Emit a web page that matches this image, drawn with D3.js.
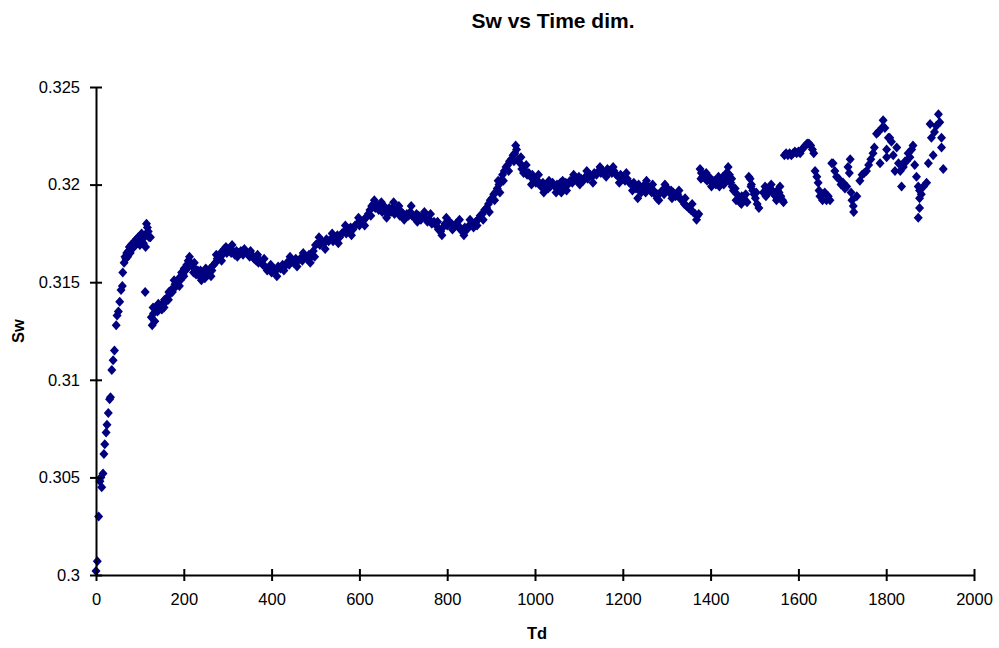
<!DOCTYPE html>
<html>
<head>
<meta charset="utf-8">
<script src="https://cdn.jsdelivr.net/npm/d3@7"></script>
<style>
  html, body { margin: 0; padding: 0; background: #fff; }
  svg { display: block; }
  text { font-family: "Liberation Sans", Arial, sans-serif; fill: #000; }
</style>
</head>
<body>
<div id="chart"></div>
<script>
// Sw against dimensionless time Td, as [Td, Sw] pairs per stretch of the record.
const riseData = [
  [0,0.3002],[3,0.3007],[6,0.3030],[9,0.3048],[11,0.3050],[13,0.3045],[16,0.3052],[18,0.3062],
  [20,0.3067],[23,0.3073],[25,0.3077],[28,0.3083],[31,0.3090],[33,0.3091],[36,0.3105],[39,0.3110],
  [42,0.3115],[46,0.3128],[48,0.3133],[51,0.3135],[54,0.3140],[57,0.3146],[60,0.3148],[61,0.3155],
  [64,0.3160],[66,0.3163],[68,0.3162],[70,0.3165],[72,0.3163],[74,0.3166],[76,0.3168],[78,0.3165],
  [80,0.3169],[82,0.3167],[84,0.3170],[86,0.3168],[88,0.3171],[90,0.3169],[92,0.3172],[94,0.3170],
  [96,0.3173],[98,0.3171],[100,0.3169],[102,0.3173],[104,0.3175],[106,0.3172],[108,0.3170],[110,0.3174],
  [112,0.3145],[113,0.3168],[115,0.3180],[117,0.3178],[119,0.3176],[121,0.3173],[124,0.3173]
];
const climbData = [
  [126,0.3132],[128,0.3128],[131,0.3134],[134,0.3130],[137,0.3137],[140,0.3135],[144,0.3136],[147,0.3138],
  [150,0.3136],[153,0.3139],[156,0.3141],[159,0.3140],[162,0.3142],[165,0.3141],[168,0.3144],[171,0.3146],
  [174,0.3145],[177,0.3147],[180,0.3149],[183,0.3148],[186,0.3150],[189,0.3152],[192,0.3151],[195,0.3155],
  [198,0.3154],[201,0.3157],[204,0.3156],[207,0.3159],[210,0.3161],[213,0.3163],[216,0.3160],[219,0.3158],
  [222,0.3155],[225,0.3157],[228,0.3154],[232,0.3156],[236,0.3153],[240,0.3151],[244,0.3154],[248,0.3152],
  [252,0.3155],[256,0.3154],[260,0.3157],[264,0.3156],[268,0.3159],[272,0.3160],[276,0.3162],[280,0.3163],
  [284,0.3165],[288,0.3164],[292,0.3167],[296,0.3168],[300,0.3166],[304,0.3167],[308,0.3165],[312,0.3166],
  [316,0.3164],[320,0.3166],[325,0.3165],[330,0.3166],[335,0.3164],[340,0.3166],[345,0.3165],[350,0.3163],
  [355,0.3164],[360,0.3162],[365,0.3161],[370,0.3160],[375,0.3161],[380,0.3159],[385,0.3158],[390,0.3156],
  [395,0.3157],[400,0.3155],[405,0.3157],[410,0.3156],[415,0.3158],[420,0.3157],[425,0.3159],[430,0.3158],
  [435,0.3160],[440,0.3159],[445,0.3161],[450,0.3160],[455,0.3162],[460,0.3161],[465,0.3162],[470,0.3161],
  [475,0.3163],[480,0.3162],[485,0.3164],[490,0.3163],[495,0.3166],[500,0.3169],[505,0.3170],[510,0.3169],
  [515,0.3171],[520,0.3170],[525,0.3172],[530,0.3171],[535,0.3172],[540,0.3171],[545,0.3173],[550,0.3174],
  [555,0.3173],[560,0.3175],[565,0.3176],[570,0.3175],[575,0.3177],[580,0.3178],[585,0.3177],[590,0.3179],
  [595,0.3180],[600,0.3179],[605,0.3181],[610,0.3182],[615,0.3183],[620,0.3185],[624,0.3187],[628,0.3189],
  [632,0.3190],[636,0.3188],
  [130,0.3137],[142,0.3139],[155,0.3137],[166,0.3145],[178,0.3151],[190,0.3148],[200,0.3153],[211,0.3158],
  [224,0.3160],[238,0.3156],[250,0.3157],[262,0.3153],[274,0.3164],[286,0.3161],[298,0.3165],[310,0.3169],
  [322,0.3163],[338,0.3167],[352,0.3166],[368,0.3164],[383,0.3162],[398,0.3159],[412,0.3153],[428,0.3156],
  [442,0.3163],[458,0.3158],[472,0.3165],[488,0.3160],[498,0.3163],[508,0.3173],[522,0.3167],[538,0.3175],
  [552,0.3170],[568,0.3179],[582,0.3174],[598,0.3183],[612,0.3179],[626,0.3184],[634,0.3192]
];
const plateauData = [
  [640,0.3189],[644,0.3187],[648,0.3188],[652,0.3186],[656,0.3189],[660,0.3187],[664,0.3185],[668,0.3188],
  [672,0.3186],[676,0.3188],[680,0.3185],[684,0.3187],[688,0.3186],[692,0.3184],[696,0.3186],[700,0.3185],
  [704,0.3183],[708,0.3185],[712,0.3184],[716,0.3186],[720,0.3184],[725,0.3183],[730,0.3185],[735,0.3184],
  [740,0.3182],[745,0.3184],[750,0.3183],[755,0.3181],[760,0.3182],[765,0.3180],[770,0.3181],[775,0.3179],
  [780,0.3177],[785,0.3176],[790,0.3178],[795,0.3180],[800,0.3179],[805,0.3181],[810,0.3180],[815,0.3178],
  [820,0.3180],[825,0.3179],[830,0.3177],[835,0.3176],[840,0.3178],[845,0.3177],[850,0.3179],[855,0.3180],
  [860,0.3178],[865,0.3181],[870,0.3182],[875,0.3184],[880,0.3185],[885,0.3187],[890,0.3188],[894,0.3190],
  [898,0.3192],[902,0.3193],[906,0.3195],[910,0.3196],[914,0.3198],[918,0.3200],[920,0.3196],[922,0.3202],
  [926,0.3205],[930,0.3207],[934,0.3209],[938,0.3210],[942,0.3212],[946,0.3213],[950,0.3215],[954,0.3216],
  [958,0.3218],
  [650,0.3191],[662,0.3183],[678,0.3191],[690,0.3189],[702,0.3182],[718,0.3189],[732,0.3181],[748,0.3186],
  [762,0.3185],[778,0.3181],[788,0.3174],[798,0.3183],[812,0.3177],[828,0.3182],[838,0.3174],[852,0.3182],
  [868,0.3179],[882,0.3182],[896,0.3186],[908,0.3192],[916,0.3202],[928,0.3202],[940,0.3207],[952,0.3212],
  [956,0.3220]
];
const midData = [
  [962,0.3213],[966,0.3211],[970,0.3208],[974,0.3206],[978,0.3207],[982,0.3205],[986,0.3206],[990,0.3204],
  [994,0.3205],[998,0.3203],[1002,0.3201],[1006,0.3202],[1010,0.3200],[1014,0.3199],[1018,0.3201],[1022,0.3199],
  [1026,0.3200],[1030,0.3198],[1035,0.3199],[1040,0.3201],[1045,0.3199],[1050,0.3200],[1055,0.3198],[1060,0.3196],
  [1063,0.3202],[1066,0.3199],[1070,0.3201],[1075,0.3200],[1080,0.3202],[1085,0.3201],[1090,0.3203],[1095,0.3202],
  [1100,0.3204],[1105,0.3203],[1110,0.3202],[1115,0.3204],[1120,0.3203],[1125,0.3205],[1130,0.3204],[1135,0.3206],
  [1140,0.3205],[1145,0.3207],[1150,0.3206],[1155,0.3207],[1160,0.3206],[1165,0.3208],[1170,0.3207],[1175,0.3206],
  [1180,0.3207],[1185,0.3205],[1190,0.3204],[1195,0.3205],[1200,0.3203],[1205,0.3202],[1210,0.3203],[1215,0.3201],
  [1220,0.3200],[1225,0.3201],[1230,0.3198],[1234,0.3193],[1238,0.3197],[1242,0.3196],[1246,0.3198],[1250,0.3200],
  [1254,0.3202],[1258,0.3199],[1262,0.3198],[1266,0.3196],[1270,0.3197],[1274,0.3195],[1278,0.3193],[1282,0.3192],
  [1286,0.3196],[1290,0.3197],[1294,0.3195],[1298,0.3197],[1302,0.3198],[1306,0.3196],[1310,0.3197],[1315,0.3196],
  [1320,0.3194],[1325,0.3195],[1330,0.3193],[1335,0.3192],[1340,0.3190],[1345,0.3189],[1350,0.3188],[1355,0.3187],
  [1360,0.3186],[1365,0.3185],[1370,0.3184],[1373,0.3185],
  [968,0.3214],[980,0.3210],[992,0.3200],[1008,0.3205],[1020,0.3196],[1032,0.3202],[1048,0.3196],[1058,0.3201],
  [1072,0.3197],[1088,0.3205],[1102,0.3200],[1118,0.3207],[1132,0.3201],[1148,0.3209],[1162,0.3204],[1178,0.3209],
  [1192,0.3201],[1208,0.3206],[1222,0.3197],[1236,0.3200],[1252,0.3196],[1268,0.3200],[1280,0.3195],[1296,0.3200],
  [1312,0.3193],[1328,0.3197],[1342,0.3193],[1358,0.3190],[1368,0.3182]
];
const lateData = [
  [1376,0.3208],[1379,0.3206],[1382,0.3204],[1385,0.3205],[1388,0.3203],[1392,0.3202],[1396,0.3204],[1400,0.3203],
  [1404,0.3201],[1408,0.3202],[1412,0.3200],[1416,0.3201],[1420,0.3199],[1424,0.3202],[1428,0.3204],[1432,0.3203],
  [1436,0.3206],[1440,0.3209],[1443,0.3205],[1446,0.3201],[1449,0.3199],[1452,0.3197],[1456,0.3198],[1460,0.3195],
  [1464,0.3193],[1467,0.3191],[1471,0.3194],[1475,0.3193],[1479,0.3192],[1483,0.3191],[1487,0.3204],[1490,0.3203],
  [1493,0.3200],[1496,0.3197],[1499,0.3195],[1502,0.3193],[1506,0.3190],[1510,0.3188],[1520,0.3196],[1524,0.3199],
  [1528,0.3198],[1532,0.3196],[1536,0.3198],[1540,0.3197],[1544,0.3195],[1548,0.3194],[1552,0.3197],[1556,0.3196],
  [1560,0.3194],[1564,0.3192],[1566,0.3191],
  [1378,0.3203],[1390,0.3206],[1402,0.3199],[1418,0.3204],[1430,0.3200],[1438,0.3203],[1448,0.3203],[1458,0.3192],
  [1470,0.3190],[1480,0.3195],[1492,0.3199],[1504,0.3196],[1526,0.3194],[1538,0.3200],[1550,0.3192],[1558,0.3199]
];
const highData = [
  [1568,0.3215],[1572,0.3216],[1576,0.3215],[1580,0.3216],[1584,0.3215],[1588,0.3216],[1592,0.3217],[1596,0.3216],
  [1600,0.3217],[1604,0.3216],[1608,0.3218],[1612,0.3219],[1616,0.3220],[1620,0.3221],[1624,0.3221],[1628,0.3220],
  [1632,0.3218],[1635,0.3216]
];
const scatterData = [
  [1638,0.3207],[1642,0.3204],[1645,0.3201],[1647,0.3197],[1649,0.3194],[1655,0.3192],[1660,0.3196],[1664,0.3192],
  [1668,0.3194],[1672,0.3192],[1676,0.3211],[1679,0.3211],[1683,0.3207],[1687,0.3204],[1692,0.3203],[1697,0.3200],
  [1702,0.3201],[1706,0.3198],[1710,0.3199],[1713,0.3209],[1716,0.3206],[1718,0.3213],[1720,0.3196],[1722,0.3192],
  [1725,0.3189],[1726,0.3186],[1733,0.3194],[1740,0.3202],[1745,0.3205],[1750,0.3206],[1755,0.3207],[1760,0.3210],
  [1765,0.3213],[1770,0.3216],[1773,0.3219],[1778,0.3226],[1782,0.3227],[1786,0.3211],[1790,0.3229],[1793,0.3233],
  [1797,0.3229],[1801,0.3218],[1801,0.3214],[1805,0.3224],[1808,0.3224],[1812,0.3222],[1816,0.3215],[1820,0.3207],
  [1824,0.3219],[1828,0.3211],[1832,0.3207],[1835,0.3199],[1839,0.3209],[1843,0.3212],[1846,0.3212],[1850,0.3216],
  [1854,0.3214],[1858,0.3218],[1861,0.3220],[1865,0.3210],[1869,0.3204],[1873,0.3199],[1876,0.3197],[1876,0.3193],
  [1876,0.3188],[1873,0.3183],[1880,0.3195],[1885,0.3199],[1892,0.3201],[1896,0.3211],[1900,0.3231],[1903,0.3224],
  [1907,0.3215],[1910,0.3227],[1914,0.3230],[1919,0.3236],[1922,0.3232],[1926,0.3224],[1926,0.3219],[1930,0.3208]
];

const xTicks = [0, 200, 400, 600, 800, 1000, 1200, 1400, 1600, 1800, 2000];
const yTicks = [0.3, 0.305, 0.31, 0.315, 0.32, 0.325];
const yTickLabels = ["0.3", "0.305", "0.31", "0.315", "0.32", "0.325"];

const points = [].concat(riseData, climbData, plateauData, midData, lateData, highData, scatterData);

const W = 999, H = 648;
const margin = { left: 96, right: 25, top: 87, bottom: 73 };

const svg = d3.select("#chart").append("svg")
  .attr("width", W).attr("height", H);

const x = d3.scaleLinear().domain([0, 2000]).range([margin.left, W - margin.right]);
const y = d3.scaleLinear().domain([0.3, 0.325]).range([H - margin.bottom, margin.top]);

// Diamond markers
const diamond = "M0,-5L4.5,0L0,5L-4.5,0Z";
svg.append("g")
  .selectAll("path")
  .data(points)
  .join("path")
  .attr("d", diamond)
  .attr("transform", d => `translate(${x(d[0])},${y(d[1])})`)
  .attr("fill", "#000080");

// Axes: ticks cross the axis line
const yAxis = d3.axisLeft(y)
  .tickValues(yTicks)
  .tickFormat((d, i) => yTickLabels[i])
  .tickSizeInner(6).tickSizeOuter(0).tickPadding(10);
const gy = svg.append("g")
  .attr("transform", `translate(${margin.left},0)`)
  .call(yAxis);
gy.selectAll(".tick line").attr("x1", 6).attr("stroke-width", 2);
gy.select(".domain").attr("stroke-width", 2);
gy.selectAll(".tick text").attr("font-size", 16.5).attr("font-family", "Liberation Sans, Arial, sans-serif");

const xAxis = d3.axisBottom(x)
  .tickValues(xTicks)
  .tickFormat(d3.format("d"))
  .tickSizeInner(6).tickSizeOuter(0).tickPadding(12);
const gx = svg.append("g")
  .attr("transform", `translate(0,${H - margin.bottom})`)
  .call(xAxis);
gx.selectAll(".tick line").attr("y1", -6).attr("stroke-width", 2);
gx.select(".domain").attr("stroke-width", 2);
gx.selectAll(".tick text").attr("font-size", 16.5).attr("font-family", "Liberation Sans, Arial, sans-serif");

// Titles
svg.append("text")
  .attr("x", 553).attr("y", 28)
  .attr("text-anchor", "middle")
  .attr("font-size", 21).attr("font-weight", "bold")
  .text("Sw vs Time dim.");

svg.append("text")
  .attr("x", 537).attr("y", 639)
  .attr("text-anchor", "middle")
  .attr("font-size", 16.5).attr("font-weight", "bold")
  .text("Td");

svg.append("text")
  .attr("transform", "translate(24,331) rotate(-90)")
  .attr("text-anchor", "middle")
  .attr("font-size", 16.5).attr("font-weight", "bold")
  .text("Sw");
</script>
</body>
</html>
